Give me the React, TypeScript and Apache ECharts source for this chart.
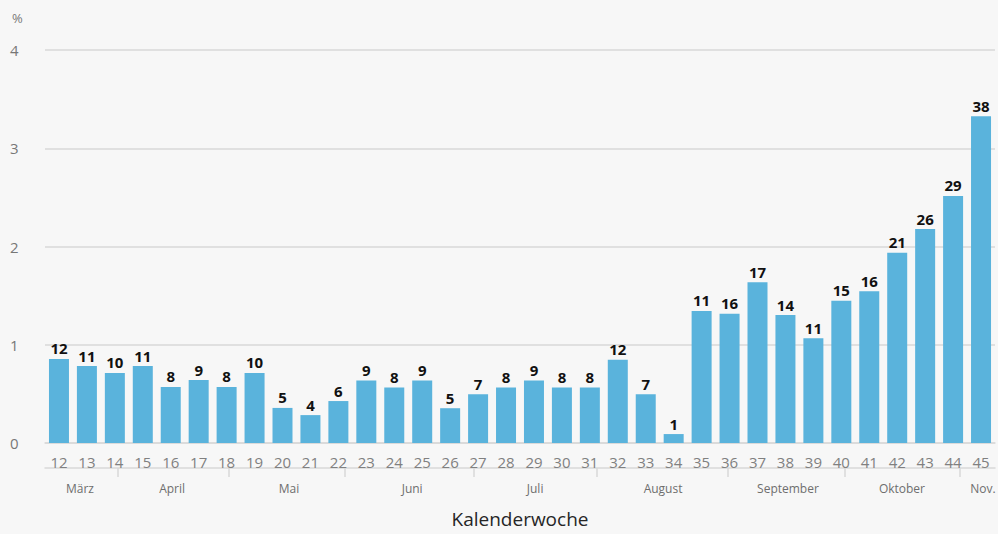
import React, { useEffect, useRef } from "react";
import * as echarts from "echarts";

const weeks = ["12","13","14","15","16","17","18","19","20","21","22","23","24","25","26","27","28","29","30","31","32","33","34","35","36","37","38","39","40","41","42","43","44","45"];
const shares = [0.855,0.783,0.713,0.783,0.571,0.641,0.571,0.713,0.357,0.284,0.427,0.636,0.566,0.636,0.354,0.495,0.566,0.636,0.566,0.566,0.848,0.495,0.091,1.344,1.316,1.635,1.302,1.067,1.448,1.545,1.936,2.178,2.514,3.325];
const counts = [12,11,10,11,8,9,8,10,5,4,6,9,8,9,5,7,8,9,8,8,12,7,1,11,16,17,14,11,15,16,21,26,29,38];
const yTicks = [0, 1, 2, 3, 4];
const monthNames = ["März","April","Mai","Juni","Juli","August","September","Oktober","Nov."];
const monthCenters = [12.75,16.05,20.23,24.64,29.04,33.62,38.09,42.17,45.07];
const monthBounds = [14.1,18.07,22.24,26.83,31.25,35.92,40.11,44.25];

const FONT = "'Open Sans', Lato, sans-serif";

export default function App() {
  const ref = useRef<HTMLDivElement>(null);
  useEffect(() => {
    if (!ref.current) return;
    const chart = echarts.init(ref.current, null, { renderer: "svg" });
    chart.setOption({
      animation: false,
      backgroundColor: "#f7f7f7",
      textStyle: { fontFamily: FONT },
      grid: { left: 45, right: 3, top: 50, bottom: 91, containLabel: false, outerBoundsMode: "none" },
      xAxis: [
        {
          type: "category",
          data: weeks,
          axisLine: { show: true, lineStyle: { color: "#d9d9d9", width: 1.5 } },
          axisTick: { show: false },
          axisLabel: { color: "#808080", fontSize: 15, margin: 11, fontFamily: FONT },
        },
        {
          type: "value",
          position: "bottom",
          offset: 25,
          min: 11.5,
          max: 45.5,
          axisLine: { show: true, lineStyle: { color: "#d9d9d9", width: 1.5 } },
          axisTick: { show: true, customValues: monthBounds, length: 9, lineStyle: { color: "#d9d9d9", width: 1.5 } },
          axisLabel: {
            show: true,
            customValues: monthCenters,
            color: "#6e6e6e",
            fontSize: 12,
            margin: 14,
            fontFamily: FONT,
            formatter: (v: number) => {
              let best = 0;
              let d = Infinity;
              monthCenters.forEach((c, i) => {
                if (Math.abs(c - v) < d) { d = Math.abs(c - v); best = i; }
              });
              return monthNames[best];
            },
          },
          splitLine: { show: false },
          name: "Kalenderwoche",
          nameLocation: "middle",
          nameGap: 41,
          nameTextStyle: { color: "#262626", fontSize: 19, fontFamily: FONT },
        },
      ],
      yAxis: {
        type: "value",
        min: yTicks[0],
        max: yTicks[yTicks.length - 1],
        interval: 1,
        axisLine: { show: false },
        axisTick: { show: false },
        axisLabel: { color: "#777777", fontSize: 15, align: "left", margin: 35, fontFamily: FONT },
        splitLine: { lineStyle: { color: "#d9d9d9", width: 1.5 } },
        name: "%",
        nameLocation: "end",
        nameGap: 26,
        nameTextStyle: { color: "#777777", fontSize: 13, align: "left", padding: [0, 0, 0, -33] },
      },
      series: [
        {
          type: "bar",
          data: shares,
          barWidth: 20,
          itemStyle: { color: "#5ab3dc" },
          label: {
            show: true,
            position: "top",
            distance: 3,
            color: "#111111",
            fontSize: 15,
            fontWeight: "bold",
            fontFamily: FONT,
            formatter: (p: any) => String(counts[p.dataIndex]),
          },
        },
      ],
    });
    return () => chart.dispose();
  }, []);
  return <div ref={ref} style={{ position: "fixed", left: 0, top: 0, width: 998, height: 534 }} />;
}
